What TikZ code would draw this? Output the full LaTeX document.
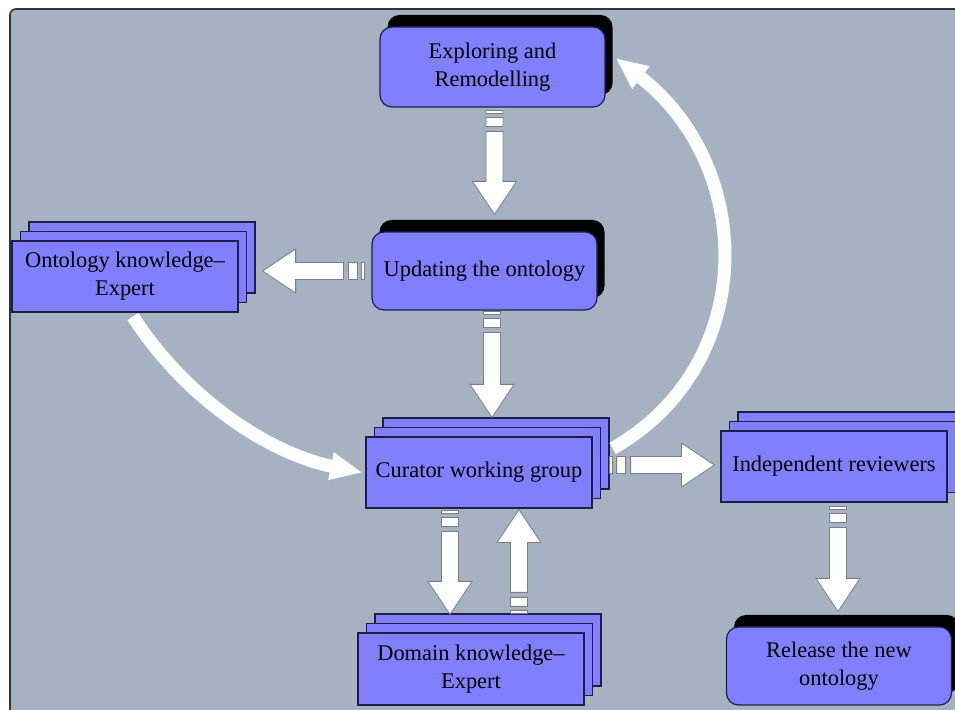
\documentclass[tikz,border=0pt]{standalone}
\usepackage{fontspec}
\setmainfont{Liberation Serif}
\usetikzlibrary{shadows,arrows.meta,calc}
\definecolor{bgblue}{RGB}{164,178,194}
\definecolor{boxblue}{RGB}{128,128,255}
\definecolor{boxline}{RGB}{30,30,70}
\definecolor{arrowline}{RGB}{125,125,125}

\newcommand\blockarrow[2]{%
  \draw[blockarr]let\p1=(#1),\p2=(#2),\n1={atan2(\y2-\y1,\x2-\x1)},\n2={veclen(\x2-\x1,\y2-\y1)}in
    [shift={(\p1)},rotate=\n1]
    (0pt,-4.25pt)--(1.5pt,-4.25pt)--(1.5pt,4.25pt)--(0pt,4.25pt)--cycle
    (3.5pt,-4.25pt)--(8pt,-4.25pt)--(8pt,4.25pt)--(3.5pt,4.25pt)--cycle
    (10.5pt,-4.25pt)--(\n2-16.5pt,-4.25pt)--(\n2-16.5pt,-11pt)--(\n2,0pt)
    --(\n2-16.5pt,11pt)--(\n2-16.5pt,4.25pt)--(10.5pt,4.25pt)--cycle;}

\begin{document}
\begin{tikzpicture}[x=0.5pt,y=-0.5pt,font=\fontsize{11.2}{14}\selectfont,
    stack/.style={draw=boxline,fill=boxblue,line width=0.6pt,minimum width=113pt,minimum height=35.5pt,
      inner sep=0pt,align=center,
      double copy shadow={shadow xshift=4.25pt,shadow yshift=4.75pt,draw=boxline,fill=boxblue,line width=0.6pt}},
    roundbox/.style={draw=boxline,fill=boxblue,line width=0.6pt,rounded corners=6pt,minimum width=112.5pt,
      minimum height=39pt,inner sep=0pt,align=center,
      general shadow={fill=black,shadow xshift=3.75pt,shadow yshift=6pt}},
    blockarr/.style={draw=arrowline,fill=white,line width=0.4pt},
    bendarr/.style={draw=white,line width=6.5pt,-{Triangle[width=13pt,length=16pt]}}]
        \useasboundingbox(0,0)rectangle(955,710);
        \clip(0,0)rectangle(955,710);
        \draw[draw=black!80,fill=bgblue,line width=0.8pt,rounded corners=3pt](10,9)rectangle(975,725);

        \node[roundbox,minimum height=40pt](expl)at(492.5,67){Exploring and\\Remodelling};
        \node[roundbox](upd)at(484.5,271){Updating the ontology};
        \node[stack](onto)at(125,276.5){Ontology knowledge–\\Expert};
        \node[stack](cur)at(479,472.5){Curator working group};
        \node[stack](ind)at(834,466.5){Independent reviewers};
        \node[stack,minimum height=36pt](dom)at(471,669){Domain knowledge–\\Expert};
        \node[roundbox](rel)at(839,666){Release the new\\ontology};

        \blockarrow{$(expl.south)+(2,3)$}{$(expl.south |- upd.north)+(2,-17)$}
        \blockarrow{$(upd.south)+(7.5,1)$}{$(upd.south |- cur.north)+(7.5,-19)$}
        \blockarrow{$(upd.west)+(-7,0)$}{$(upd.west -| onto.east)+(24,0)$}
        \blockarrow{$(cur.east)+(17,-7.5)$}{$(cur.east -| ind.west)+(-6,-7.5)$}
        \blockarrow{$(cur.south)+(-29,2)$}{$(cur.south |- dom.north)+(-29,-18)$}
        \blockarrow{$(cur.south |- dom.north)+(40,-19)$}{$(cur.south)+(40,1)$}
        \blockarrow{$(ind.south)+(4,4)$}{$(ind.south |- rel.north)+(4,-15)$}

        \draw[bendarr]($(cur.north east)+(20,12)$)..controls+(145,-82)and+(142,110)..($(expl.east)+(10,-9)$);
        \draw[bendarr]($(onto.south)+(8,4)$)..controls+(52,81)and+(-94,-19)..($(cur.west)+(-3,0)$);
\end{tikzpicture}
\end{document}
